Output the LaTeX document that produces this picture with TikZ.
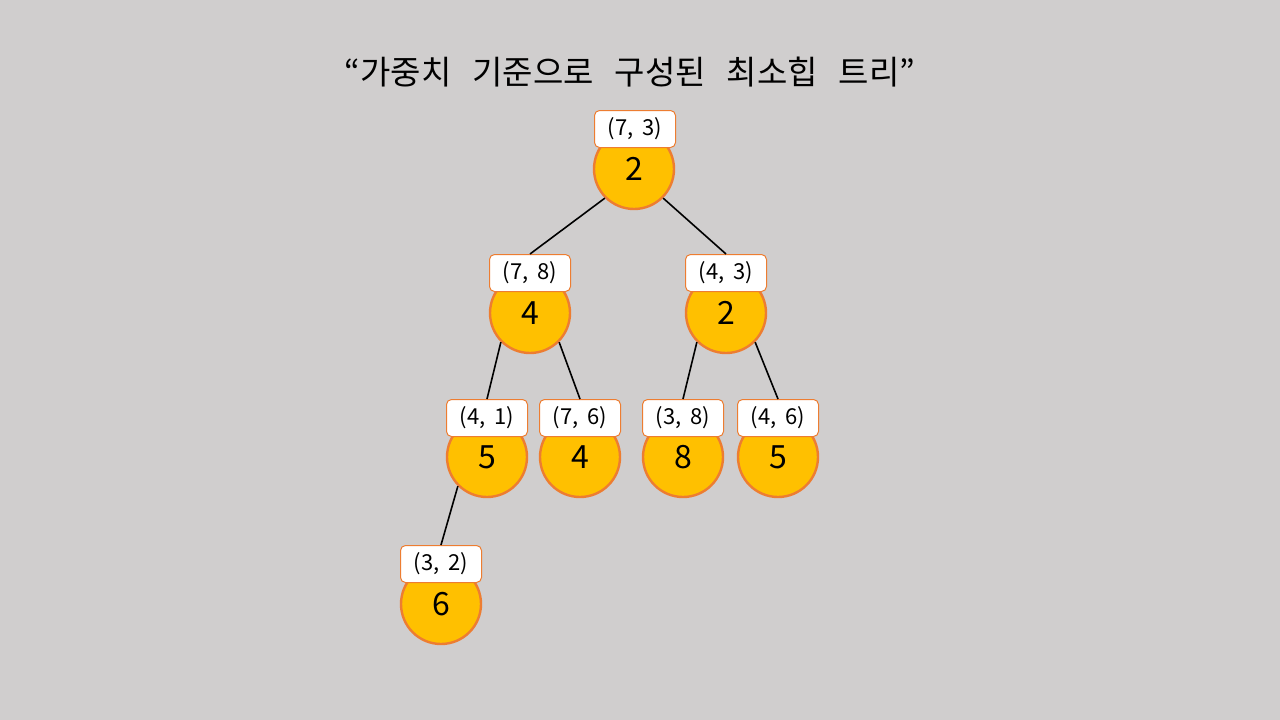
\documentclass[tikz,border=0pt]{standalone}
\usepackage{fontspec}
\setmainfont{Noto Sans CJK KR}
\definecolor{bggray}{HTML}{D0CECE}
\definecolor{ballyellow}{HTML}{FFC000}
\definecolor{borderorange}{HTML}{ED7D31}
\newcommand{\wsp}{\hspace{21pt}}
\newcommand{\csp}{\hspace{9pt}}
\begin{document}
\begin{tikzpicture}[x=1pt,y=-1pt,
  ball/.style={circle, draw=borderorange, fill=ballyellow, line width=2.4pt, minimum size=80pt, inner sep=0pt, font=\fontsize{32}{36}\selectfont},
  tag/.style={rectangle, rounded corners=5pt, draw=borderorange, fill=white, line width=1pt, minimum width=81pt, minimum height=37pt, inner sep=0pt, font=\fontsize{22}{24}\selectfont},
  tagtext/.style={font=\fontsize{22}{24}\selectfont, inner sep=0pt},
  link/.style={line width=1.6pt, black}]
\fill[bggray] (0,0) rectangle (1280,720);
\useasboundingbox (0,0) rectangle (1280,720);
\node[font=\fontsize{33}{38}\selectfont] (title) at (630,72) {“가중치\wsp 기준으로\wsp 구성된\wsp 최소힙\wsp 트리”};
% circles
\node[ball] (c1) at (634,169) {2};
\node[ball] (c2) at (530,313) {4};
\node[ball] (c3) at (726,313) {2};
\node[ball] (c4) at (487,457) {5};
\node[ball] (c5) at (580,457) {4};
\node[ball] (c6) at (683,457) {8};
\node[ball] (c7) at (778,457) {5};
\node[ball] (c8) at (441,604) {6};
% tags
\node[tag] (b1) at (635,129) {\raisebox{-2pt}{(7,\csp 3)}};
\node[tag] (b2) at (530,273) {\raisebox{-2pt}{(7,\csp 8)}};
\node[tag] (b3) at (726,273) {\raisebox{-2pt}{(4,\csp 3)}};
\node[tag] (b4) at (487,418) {\raisebox{-2pt}{(4,\csp 1)}};
\node[tag] (b5) at (580,418) {\raisebox{-2pt}{(7,\csp 6)}};
\node[tag] (b6) at (683,418) {\raisebox{-2pt}{(3,\csp 8)}};
\node[tag] (b7) at (778,418) {\raisebox{-2pt}{(4,\csp 6)}};
\node[tag] (b8) at (441,564) {\raisebox{-2pt}{(3,\csp 2)}};
% edges
\draw[link] (c1.south west) -- (b2.north);
\draw[link] (c1.south east) -- (b3.north);
\draw[link] (c2.south west) -- (b4.north);
\draw[link] (c2.south east) -- (b5.north);
\draw[link] (c3.south west) -- (b6.north);
\draw[link] (c3.south east) -- (b7.north);
\draw[link] (c4.south west) -- (b8.north);
\end{tikzpicture}
\end{document}
